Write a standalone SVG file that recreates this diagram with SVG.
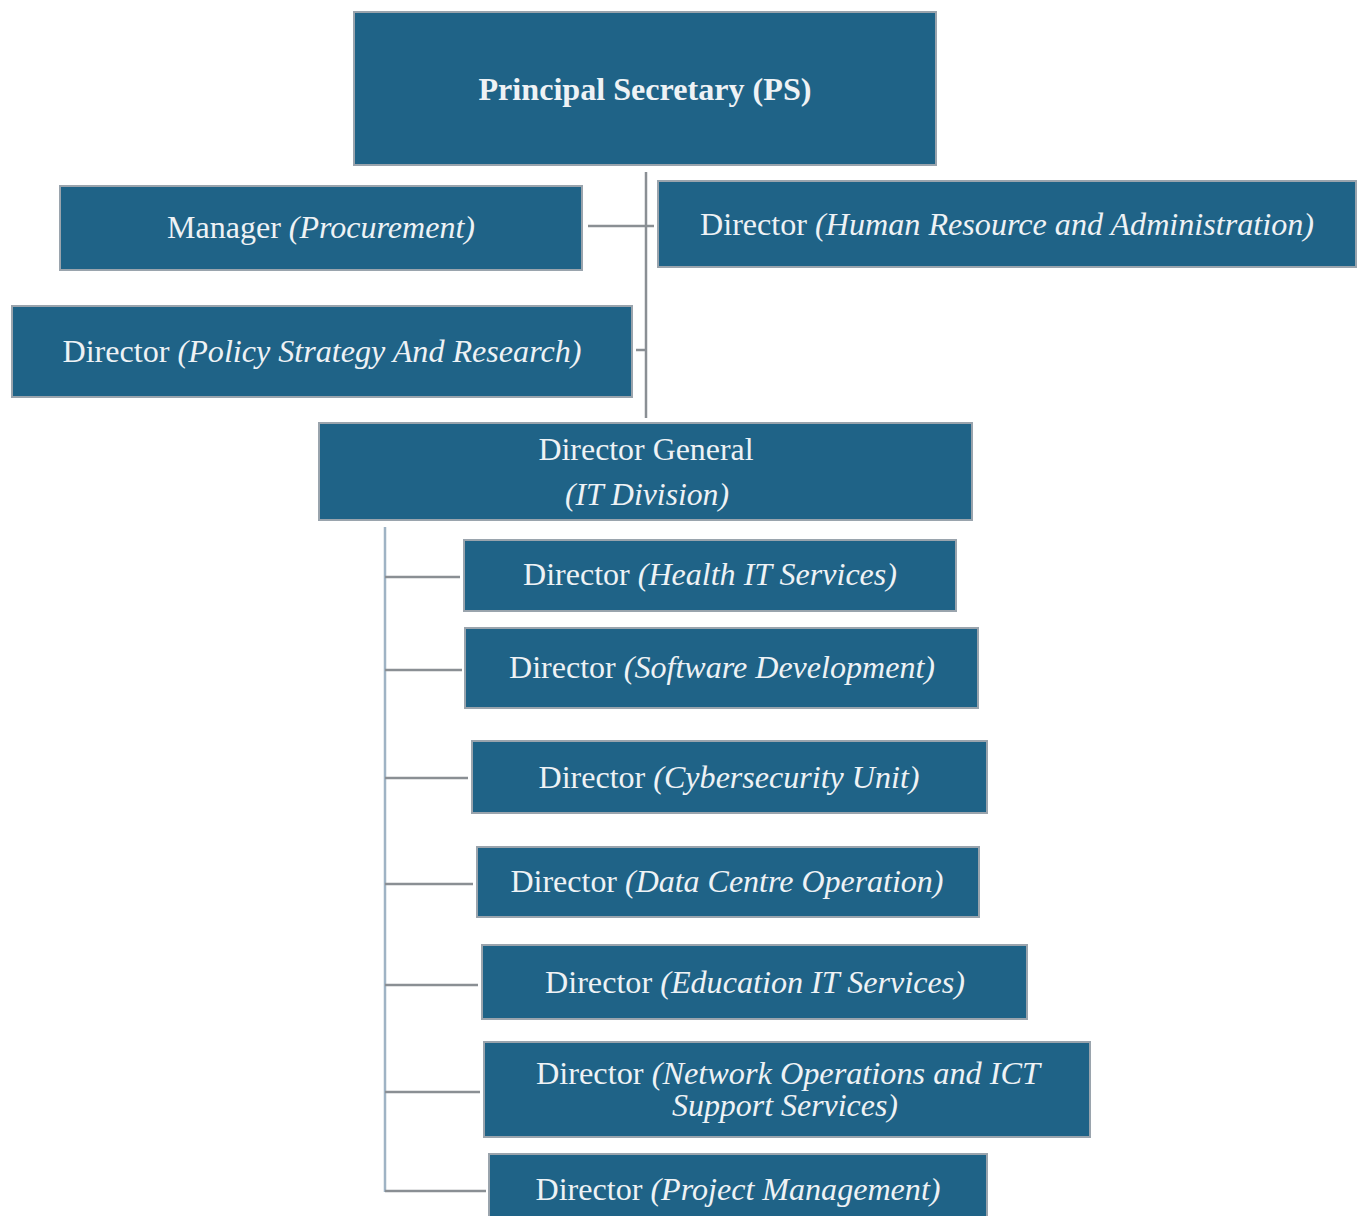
<svg xmlns="http://www.w3.org/2000/svg" width="1363" height="1216" viewBox="0 0 1363 1216">
<style>
.box{fill:#1f6387;stroke:#9aa4ad;stroke-width:2}
.t{font-family:"Liberation Serif","Times New Roman",serif;font-size:31px;fill:#eef2f5;text-anchor:middle}
.b{font-weight:bold}
.i{font-style:italic}
.c{stroke:#8a8f94;stroke-width:2.5;fill:none}
</style>
<rect width="1363" height="1216" fill="#ffffff"/>
<g id="connectors">
<line class="c" x1="646" y1="172" x2="646" y2="418"/>
<line class="c" x1="588" y1="226" x2="654" y2="226"/>
<line class="c" x1="636" y1="350" x2="646" y2="350"/>
<line class="c" x1="385" y1="527" x2="385" y2="1192" style="stroke:#9fb3c4"/>
<line class="c" x1="385" y1="577" x2="460" y2="577"/>
<line class="c" x1="385" y1="670" x2="462" y2="670"/>
<line class="c" x1="385" y1="778" x2="468" y2="778"/>
<line class="c" x1="385" y1="884" x2="473" y2="884"/>
<line class="c" x1="385" y1="985" x2="478" y2="985"/>
<line class="c" x1="385" y1="1092" x2="480" y2="1092"/>
<line class="c" x1="385" y1="1191" x2="486" y2="1191"/>
</g>
<g id="ps">
<rect class="box" x="354" y="12" width="582" height="153"/>
<text class="t b" x="645" y="100" textLength="333" lengthAdjust="spacingAndGlyphs">Principal Secretary (PS)</text>
</g>
<g id="procurement">
<rect class="box" x="60" y="186" width="522" height="84"/>
<text class="t" x="321" y="238" textLength="308" lengthAdjust="spacingAndGlyphs">Manager <tspan class="i">(Procurement)</tspan></text>
</g>
<g id="hr">
<rect class="box" x="658" y="181" width="698" height="86"/>
<text class="t" x="1007" y="235" textLength="614" lengthAdjust="spacingAndGlyphs">Director <tspan class="i">(Human Resource and Administration)</tspan></text>
</g>
<g id="policy">
<rect class="box" x="12" y="306" width="620" height="91"/>
<text class="t" x="322" y="362" textLength="519" lengthAdjust="spacingAndGlyphs">Director <tspan class="i">(Policy Strategy And Research)</tspan></text>
</g>
<g id="dg">
<rect class="box" x="319" y="423" width="653" height="97"/>
<text class="t" x="646" y="460" textLength="215" lengthAdjust="spacingAndGlyphs">Director General</text>
<text class="t i" x="647" y="505" textLength="164" lengthAdjust="spacingAndGlyphs">(IT Division)</text>
</g>
<g id="health">
<rect class="box" x="464" y="540" width="492" height="71"/>
<text class="t" x="710" y="585" textLength="374" lengthAdjust="spacingAndGlyphs">Director <tspan class="i">(Health IT Services)</tspan></text>
</g>
<g id="software">
<rect class="box" x="465" y="628" width="513" height="80"/>
<text class="t" x="722" y="678" textLength="426" lengthAdjust="spacingAndGlyphs">Director <tspan class="i">(Software Development)</tspan></text>
</g>
<g id="cyber">
<rect class="box" x="472" y="741" width="515" height="72"/>
<text class="t" x="729" y="788" textLength="381" lengthAdjust="spacingAndGlyphs">Director <tspan class="i">(Cybersecurity Unit)</tspan></text>
</g>
<g id="datacentre">
<rect class="box" x="477" y="847" width="502" height="70"/>
<text class="t" x="727" y="892" textLength="433" lengthAdjust="spacingAndGlyphs">Director <tspan class="i">(Data Centre Operation)</tspan></text>
</g>
<g id="education">
<rect class="box" x="482" y="945" width="545" height="74"/>
<text class="t" x="755" y="993" textLength="420" lengthAdjust="spacingAndGlyphs">Director <tspan class="i">(Education IT Services)</tspan></text>
</g>
<g id="network">
<rect class="box" x="484" y="1042" width="606" height="95"/>
<text class="t" x="788" y="1084" textLength="504" lengthAdjust="spacingAndGlyphs">Director <tspan class="i">(Network Operations and ICT</tspan></text>
<text class="t i" x="785" y="1116" textLength="226" lengthAdjust="spacingAndGlyphs">Support Services)</text>
</g>
<g id="project">
<rect class="box" x="489" y="1154" width="498" height="70"/>
<text class="t" x="738" y="1200" textLength="405" lengthAdjust="spacingAndGlyphs">Director <tspan class="i">(Project Management)</tspan></text>
</g>
</svg>
